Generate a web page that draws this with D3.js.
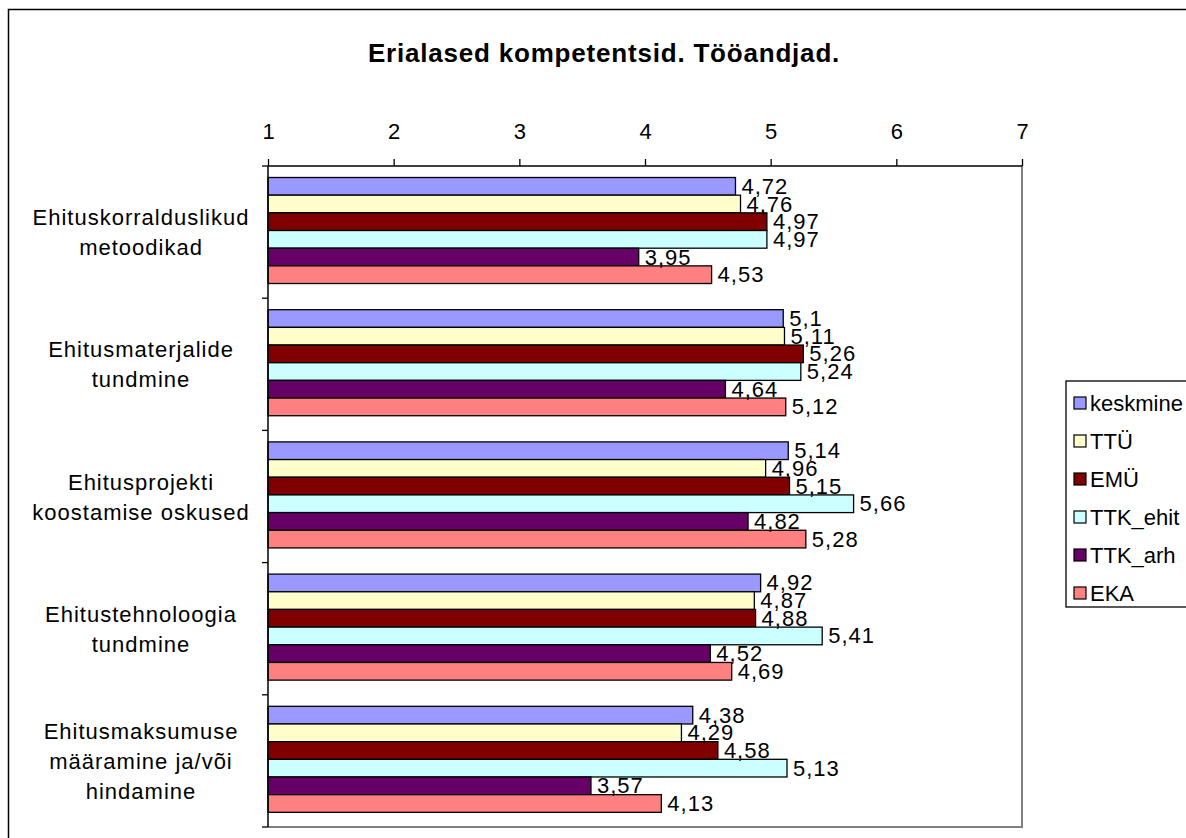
<!DOCTYPE html>
<html>
<head>
<meta charset="utf-8">
<script src="https://cdn.jsdelivr.net/npm/d3@7"></script>
<style>
  body { margin: 0; background: #fff; }
  svg { display: block; font-family: "Liberation Sans", Arial, sans-serif; }
</style>
</head>
<body>
<svg id="chart" width="1186" height="838"></svg>
<script>
const title = "Erialased kompetentsid. Tööandjad.";
const categories = [
  "Ehituskorralduslikud metoodikad",
  "Ehitusmaterjalide tundmine",
  "Ehitusprojekti koostamise oskused",
  "Ehitustehnoloogia tundmine",
  "Ehitusmaksumuse määramine ja/või hindamine"
];
const categoryLines = [
  ["Ehituskorralduslikud", "metoodikad"],
  ["Ehitusmaterjalide", "tundmine"],
  ["Ehitusprojekti", "koostamise oskused"],
  ["Ehitustehnoloogia", "tundmine"],
  ["Ehitusmaksumuse", "määramine ja/või", "hindamine"]
];
const seriesNames = ["keskmine", "TTÜ", "EMÜ", "TTK_ehit", "TTK_arh", "EKA"];
const keskmine = [4.72, 5.1, 5.14, 4.92, 4.38];
const TTU      = [4.76, 5.11, 4.96, 4.87, 4.29];
const EMU      = [4.97, 5.26, 5.15, 4.88, 4.58];
const TTK_ehit = [4.97, 5.24, 5.66, 5.41, 5.13];
const TTK_arh  = [3.95, 4.64, 4.82, 4.52, 3.57];
const EKA      = [4.53, 5.12, 5.28, 4.69, 4.13];
const seriesValues = [keskmine, TTU, EMU, TTK_ehit, TTK_arh, EKA];
const seriesColors = ["#9999FF", "#FFFFCC", "#800000", "#CCFFFF", "#660066", "#FF8080"];
const tickValues = [1, 2, 3, 4, 5, 6, 7];

const svg = d3.select("#chart");
const FONT = 22;

// outer chart border (extends beyond the viewport on right/bottom)
svg.append("rect").attr("x", 8.5).attr("y", 9.5).attr("width", 1250).attr("height", 900)
  .attr("fill", "none").attr("stroke", "#000").attr("stroke-width", 1.5);

// title
svg.append("text").attr("x", 604).attr("y", 62).attr("text-anchor", "middle")
  .attr("font-size", 26).attr("font-weight", "bold").attr("letter-spacing", "0.8px")
  .text(title);

const x = d3.scaleLinear().domain([1, 7]).range([268, 1022]);
const y0 = d3.scaleBand().domain(categories).range([166, 827]).paddingInner(0).paddingOuter(0);
const bw = y0.bandwidth();
const y1 = d3.scaleBand().domain(seriesNames).range([bw * 0.087, bw * 0.889]);

// plot area border (right and bottom, gray)
svg.append("path")
  .attr("d", `M${x(1)},${y0.range()[1]}H${x(7)}V${y0.range()[0]}`)
  .attr("fill", "none").attr("stroke", "#808080").attr("stroke-width", 2);

// bars
const data = [];
categories.forEach((c, ci) => {
  seriesNames.forEach((s, si) => {
    data.push({ c, s, ci, si, v: seriesValues[si][ci] });
  });
});

svg.append("g").selectAll("rect").data(data).enter().append("rect")
  .attr("x", x(1))
  .attr("y", d => y0(d.c) + y1(d.s))
  .attr("width", d => x(d.v) - x(1))
  .attr("height", y1.bandwidth())
  .attr("fill", d => seriesColors[d.si])
  .attr("stroke", "#000").attr("stroke-width", 1.3);

// data labels
svg.append("g").selectAll("text").data(data).enter().append("text")
  .attr("x", d => x(d.v) + 6)
  .attr("y", d => y0(d.c) + y1(d.s) + y1.bandwidth() / 2 + 7.5)
  .attr("font-size", FONT)
  .attr("letter-spacing", "1px")
  .text(d => String(d.v).replace(".", ","));

// top axis
const axis = d3.axisTop(x).tickValues(tickValues).tickSize(7).tickPadding(20).tickFormat(d3.format("d"));
const gAxis = svg.append("g").attr("transform", `translate(0,${y0.range()[0]})`).call(axis);
gAxis.select(".domain").attr("stroke", "#000").attr("stroke-width", 1.5)
  .attr("d", `M${x(1)},0H${x(7)}`);
gAxis.selectAll(".tick line").attr("stroke", "#000").attr("stroke-width", 1.3);
gAxis.selectAll(".tick text").attr("font-size", FONT).attr("fill", "#000")
  .attr("font-family", "\"Liberation Sans\", Arial, sans-serif");

// left axis (category)
const bounds = categories.map(c => y0(c)).concat([y0.range()[1]]);
svg.append("line").attr("x1", x(1)).attr("x2", x(1)).attr("y1", y0.range()[0]).attr("y2", y0.range()[1])
  .attr("stroke", "#000").attr("stroke-width", 1.5);
svg.append("g").selectAll("line").data(bounds).enter().append("line")
  .attr("x1", x(1) - 6).attr("x2", x(1)).attr("y1", d => d).attr("y2", d => d)
  .attr("stroke", "#000").attr("stroke-width", 1.3);

// category labels
const lineH = 30;
categoryLines.forEach((lines, ci) => {
  const cy = y0(categories[ci]) + bw / 2;
  const first = cy - (lines.length - 1) * lineH / 2 + 8;
  const t = svg.append("text").attr("text-anchor", "middle").attr("font-size", FONT)
    .attr("letter-spacing", "1px");
  lines.forEach((ln, li) => {
    t.append("tspan").attr("x", 141).attr("y", first + li * lineH).text(ln);
  });
});

// legend
const legX = 1066, legY = 381, legH = 226, rowH = 38;
svg.append("rect").attr("x", legX).attr("y", legY).attr("width", 200).attr("height", legH)
  .attr("fill", "#fff").attr("stroke", "#000").attr("stroke-width", 1.3);
const leg = svg.append("g").selectAll("g").data(seriesNames).enter().append("g")
  .attr("transform", (d, i) => `translate(${legX + 8},${legY + 22 + i * rowH})`);
leg.append("rect").attr("x", 0).attr("y", -6).attr("width", 12).attr("height", 12)
  .attr("fill", (d, i) => seriesColors[i]).attr("stroke", "#000").attr("stroke-width", 1.2);
leg.append("text").attr("x", 16).attr("y", 8).attr("font-size", FONT).text(d => d);
</script>
</body>
</html>
